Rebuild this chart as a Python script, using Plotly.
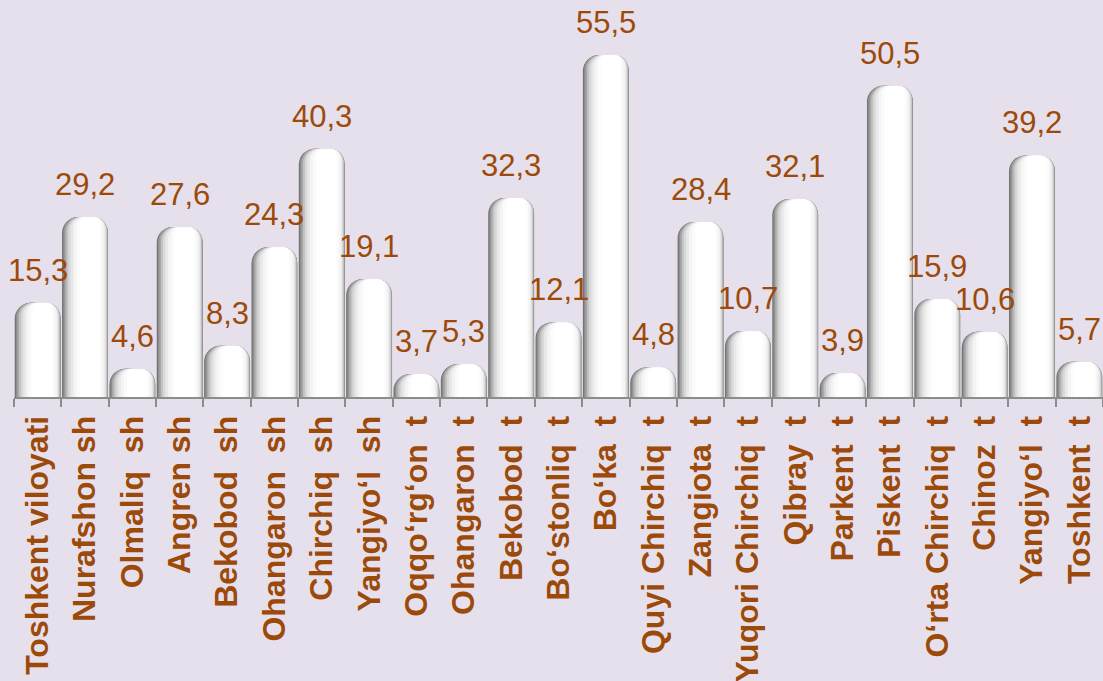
import plotly.graph_objects as go

categories = [
    "Toshkent viloyati", "Nurafshon sh", "Olmaliq  sh", "Angren sh", "Bekobod  sh",
    "Ohangaron  sh", "Chirchiq  sh", "Yangiyo‘l  sh", "Oqqo‘rg‘on  t", "Ohangaron  t",
    "Bekobod  t", "Bo‘stonliq  t", "Bo‘ka  t", "Quyi Chirchiq  t", "Zangiota  t",
    "Yuqori Chirchiq  t", "Qibray  t", "Parkent  t", "Piskent  t", "O‘rta Chirchiq  t",
    "Chinoz  t", "Yangiyo‘l  t", "Toshkent  t",
]
values = [15.3, 29.2, 4.6, 27.6, 8.3, 24.3, 40.3, 19.1, 3.7, 5.3, 32.3, 12.1, 55.5,
          4.8, 28.4, 10.7, 32.1, 3.9, 50.5, 15.9, 10.6, 39.2, 5.7]

value_labels = [f"{v:.1f}".replace(".", ",") for v in values]
tick_labels = [c.replace("  ", "\u00a0\u00a0") for c in categories]

BG = "#E6E0EC"
TXT = "#9C4A0A"
AXIS = "#8C8C8C"
FONT = "Liberation Sans, Arial, sans-serif"

# layered bars to imitate the cylindrical shading (offset, width, colour)
layers = [
    (-0.485, 0.970, "#747474"),
    (-0.460, 0.940, "#8E8E8E"),
    (-0.430, 0.905, "#A8A8A8"),
    (-0.395, 0.860, "#C2C2C2"),
    (-0.355, 0.805, "#D8D8D8"),
    (-0.305, 0.735, "#E8E8E8"),
    (-0.245, 0.650, "#F4F4F4"),
    (-0.180, 0.540, "#FBFBFB"),
    (-0.110, 0.420, "#FFFFFF"),
]

fig = go.Figure()
for off, w, col in layers:
    fig.add_bar(
        x=tick_labels, y=values, offset=off, width=w,
        marker=dict(color=col, line=dict(width=0), cornerradius="35%"),
        hoverinfo="skip", showlegend=False,
    )

for cat, v, lab in zip(tick_labels, values, value_labels):
    fig.add_annotation(
        x=cat, y=v, text=lab, showarrow=False, yanchor="bottom", yshift=13,
        font=dict(family=FONT, size=31, color=TXT),
    )

fig.update_layout(
    width=1103, height=681,
    margin=dict(l=14, r=0, t=10, b=284),
    paper_bgcolor=BG, plot_bgcolor=BG,
    barmode="overlay",
    xaxis=dict(
        type="category", range=[-0.5, len(categories) - 0.5],
        tickson="boundaries", ticks="outside", ticklen=8,
        tickwidth=2, tickcolor=AXIS, showline=True, linecolor=AXIS, linewidth=2,
        tickangle=-90, showgrid=False, ticklabelstandoff=4,
        tickfont=dict(family=FONT, size=32, color=TXT, weight="bold"),
    ),
    yaxis=dict(visible=False, range=[0, 62.8], showgrid=False, zeroline=False),
)

fig.write_html(
    "out.html",
    config={"displayModeBar": False},
    post_script="document.body.style.margin='0';document.body.style.overflow='hidden';",
)
